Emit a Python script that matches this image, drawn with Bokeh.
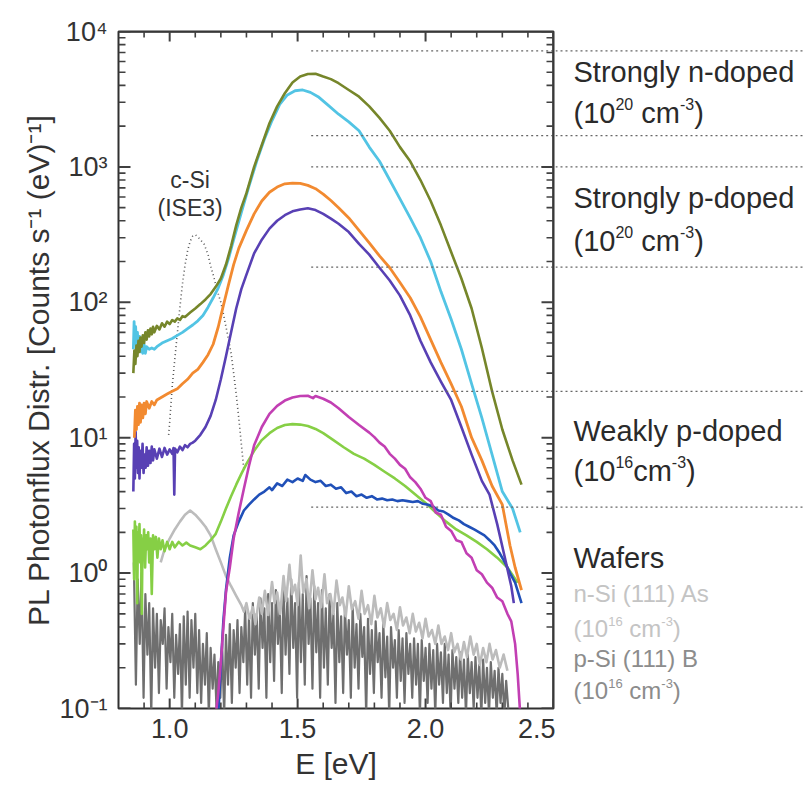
import numpy as np
from bokeh.plotting import figure
from bokeh.layouts import row
from bokeh.models import FixedTicker, CustomJSTickFormatter, PrintfTickFormatter, Range1d
from bokeh.core.properties import value
from bokeh.embed import file_html
from bokeh.resources import INLINE

FONT = "Liberation Sans"

# ---------------- data ----------------
# (E [eV], PL photon flux) pairs
olive_n = [(0.858,30),(0.862,44),(0.866,35),(0.870,48),(0.874,40),(0.878,52),(0.882,43),(0.886,55),(0.890,47),(0.895,57),(0.900,50),(0.905,60),(0.910,53),(0.915,62),(0.920,56),(0.925,64),(0.930,58),(0.935,66),(0.940,60),(0.950,67),(0.960,63),(0.970,70),(0.980,66),(0.990,72),(1.000,69),(1.010,74),(1.020,72),(1.030,76),(1.040,74),(1.050,79),(1.060,78),(1.080,84),(1.100,90),(1.120,97),(1.140,105),(1.160,115),(1.180,130),(1.200,150),(1.220,190),(1.240,260),(1.260,370),(1.280,500),(1.300,640),(1.330,1000),(1.360,1450),(1.390,2100),(1.420,2800),(1.450,3500),(1.480,4200),(1.510,4650),(1.540,4850),(1.570,4880),(1.600,4650),(1.630,4450),(1.660,4150),(1.700,3700),(1.740,3300),(1.780,2800),(1.820,2300),(1.860,1850),(1.900,1400),(1.940,1100),(1.980,800),(2.020,560),(2.060,370),(2.100,235),(2.140,150),(2.180,90),(2.220,46),(2.260,22),(2.300,11.5),(2.340,6.8),(2.375,4.5)]
cyan_n = [(0.858,45),(0.861,72),(0.864,50),(0.867,66),(0.870,47),(0.874,60),(0.878,44),(0.882,56),(0.886,43),(0.890,52),(0.895,42),(0.900,49),(0.905,42),(0.910,47),(0.920,45),(0.930,46),(0.940,45),(0.950,47),(0.970,50),(0.990,52),(1.010,54),(1.030,57),(1.050,60),(1.070,64),(1.090,68),(1.110,73),(1.130,80),(1.150,92),(1.170,108),(1.190,128),(1.210,160),(1.230,210),(1.250,290),(1.280,460),(1.310,720),(1.340,1100),(1.370,1600),(1.400,2200),(1.430,2900),(1.460,3400),(1.490,3650),(1.520,3700),(1.550,3550),(1.580,3300),(1.620,2850),(1.660,2450),(1.700,2150),(1.740,1850),(1.780,1400),(1.820,1100),(1.860,800),(1.900,580),(1.940,420),(1.980,300),(2.020,200),(2.060,120),(2.100,75),(2.140,45),(2.180,25),(2.220,14),(2.260,7.5),(2.300,4.0),(2.340,3.0),(2.370,2.0)]
orange_p = [(0.862,10),(0.866,16),(0.870,11.5),(0.874,17),(0.878,12.5),(0.882,18),(0.886,13),(0.890,17.5),(0.895,14),(0.900,18),(0.905,15),(0.910,18.5),(0.920,16.5),(0.930,18.5),(0.940,17.5),(0.950,19),(0.970,20),(0.990,21),(1.010,22),(1.030,23),(1.050,25),(1.070,27),(1.090,30),(1.110,32),(1.130,36),(1.150,41),(1.170,49),(1.190,66),(1.210,95),(1.230,135),(1.250,190),(1.270,250),(1.300,340),(1.330,450),(1.360,560),(1.390,650),(1.420,710),(1.450,750),(1.480,760),(1.510,755),(1.540,730),(1.570,690),(1.600,630),(1.630,565),(1.660,500),(1.700,420),(1.740,340),(1.780,275),(1.820,220),(1.860,180),(1.900,140),(1.940,108),(1.980,78),(2.020,53),(2.060,36),(2.100,25),(2.140,17),(2.180,10),(2.220,6.8),(2.260,4.4),(2.300,3.2),(2.330,1.6),(2.350,1.1),(2.375,0.75)]
purple_p = [(0.858,4),(0.861,9),(0.864,5),(0.867,11),(0.870,6),(0.873,9.5),(0.876,5.5),(0.879,8.5),(0.882,5),(0.886,8),(0.890,6),(0.894,9),(0.898,5.5),(0.902,7.5),(0.906,6),(0.910,8.5),(0.915,6.2),(0.920,8),(0.925,6.5),(0.930,8.6),(0.935,6.8),(0.940,8.2),(0.950,7),(0.960,8.3),(0.970,7.2),(0.980,8.4),(0.990,7.5),(1.000,8.2),(1.010,7.6),(1.015,8.4),(1.018,3.8),(1.021,8.3),(1.030,7.8),(1.040,8.6),(1.050,8.1),(1.060,8.8),(1.070,8.5),(1.080,9.0),(1.090,9.2),(1.100,9.5),(1.120,10.5),(1.140,12),(1.160,14.5),(1.180,19),(1.200,27),(1.220,40),(1.240,60),(1.260,90),(1.280,125),(1.300,160),(1.330,230),(1.360,290),(1.390,350),(1.420,400),(1.450,440),(1.480,470),(1.510,485),(1.540,495),(1.570,480),(1.600,450),(1.630,415),(1.660,380),(1.700,330),(1.740,270),(1.780,225),(1.820,180),(1.860,145),(1.900,112),(1.940,80),(1.980,52),(2.020,36),(2.060,26),(2.100,19),(2.140,12),(2.180,7.5),(2.220,4.8),(2.250,3.8),(2.280,2.3),(2.310,1.3),(2.335,0.8),(2.345,0.6)]
magenta_w = [(1.180,0.09),(1.190,0.13),(1.200,0.22),(1.210,0.40),(1.220,0.72),(1.235,1.1),(1.250,1.8),(1.270,2.8),(1.290,4.2),(1.310,6.2),(1.330,8.8),(1.360,12),(1.390,15),(1.420,17.2),(1.450,18.8),(1.480,19.8),(1.510,20.3),(1.540,20.4),(1.560,19.6),(1.570,20.3),(1.600,19.4),(1.630,18.2),(1.660,16.5),(1.700,14.2),(1.740,12.4),(1.780,10.9),(1.800,10.1),(1.820,9.2),(1.840,8.6),(1.860,7.6),(1.880,7.0),(1.900,6.3),(1.920,5.9),(1.940,5.1),(1.960,4.7),(1.980,4.2),(2.000,3.6),(2.020,3.4),(2.040,2.8),(2.060,2.7),(2.080,2.2),(2.100,2.05),(2.120,1.75),(2.140,1.7),(2.160,1.4),(2.180,1.3),(2.200,1.05),(2.220,0.98),(2.240,0.85),(2.260,0.78),(2.280,0.66),(2.300,0.62),(2.320,0.5),(2.335,0.44),(2.350,0.3),(2.360,0.18),(2.370,0.09)]
green_w = [(0.858,2.1),(0.861,0.9),(0.864,2.4),(0.867,1.3),(0.870,2.2),(0.873,0.6),(0.876,2.0),(0.879,1.5),(0.882,2.3),(0.885,1.2),(0.888,1.9),(0.891,0.5),(0.894,1.8),(0.897,1.4),(0.900,2.1),(0.904,1.1),(0.908,1.9),(0.912,1.5),(0.916,2.0),(0.920,1.2),(0.925,1.8),(0.930,0.7),(0.935,1.9),(0.940,1.5),(0.946,1.85),(0.952,1.3),(0.958,1.8),(0.965,1.5),(0.972,1.75),(0.980,1.45),(0.990,1.7),(1.000,1.5),(1.010,1.7),(1.020,1.55),(1.035,1.7),(1.050,1.6),(1.065,1.68),(1.080,1.6),(1.100,1.55),(1.120,1.5),(1.140,1.6),(1.160,1.75),(1.180,1.95),(1.200,2.4),(1.220,3.0),(1.240,3.7),(1.260,4.5),(1.280,5.4),(1.300,6.4),(1.330,8.0),(1.360,9.6),(1.390,10.8),(1.420,11.8),(1.450,12.4),(1.480,12.6),(1.510,12.5),(1.540,12.2),(1.570,11.6),(1.600,10.8),(1.640,9.6),(1.680,8.5),(1.720,7.6),(1.760,7.0),(1.800,6.3),(1.840,5.6),(1.880,5.0),(1.920,4.4),(1.960,3.8),(2.000,3.3),(2.040,2.8),(2.080,2.4),(2.120,2.1),(2.160,1.9),(2.200,1.7),(2.240,1.5),(2.280,1.3),(2.320,1.1),(2.360,0.85)]
blue_w = [(1.190,0.09),(1.200,0.21),(1.210,0.45),(1.220,0.75),(1.235,1.3),(1.250,1.9),(1.270,2.4),(1.290,2.9),(1.310,3.2),(1.330,3.5),(1.350,3.8),(1.370,4.0),(1.390,4.3),(1.400,4.1),(1.420,4.6),(1.440,4.4),(1.460,4.9),(1.480,4.7),(1.500,5.0),(1.520,4.8),(1.530,5.3),(1.550,4.9),(1.570,4.7),(1.590,4.8),(1.610,4.4),(1.630,4.5),(1.650,4.2),(1.670,4.3),(1.690,3.9),(1.710,4.0),(1.730,3.7),(1.750,3.8),(1.770,3.6),(1.790,3.7),(1.810,3.5),(1.830,3.55),(1.850,3.45),(1.870,3.5),(1.890,3.4),(1.910,3.45),(1.930,3.4),(1.950,3.35),(1.970,3.4),(1.990,3.25),(2.010,3.2),(2.030,3.1),(2.050,2.9),(2.070,2.85),(2.090,2.7),(2.110,2.55),(2.130,2.45),(2.150,2.3),(2.170,2.2),(2.190,2.1),(2.210,2.0),(2.230,1.9),(2.250,1.75),(2.270,1.6),(2.290,1.4),(2.310,1.2),(2.330,1.0),(2.350,0.85),(2.375,0.6)]
csi_ise3 = [(0.996,10.5),(1.000,13),(1.010,24),(1.020,38),(1.030,59),(1.040,92),(1.050,137),(1.060,188),(1.070,240),(1.080,282),(1.090,308),(1.100,315),(1.110,305),(1.120,290),(1.135,268),(1.150,225),(1.160,185),(1.170,160),(1.180,135),(1.190,115),(1.200,100),(1.210,82),(1.220,66),(1.230,53),(1.240,42),(1.250,30),(1.260,21),(1.270,14),(1.280,9),(1.290,5.8)]
wafer_n = [(0.965,1.2),(0.98,1.5),(1.0,1.8),(1.02,2.1),(1.04,2.4),(1.06,2.7),(1.08,2.9),(1.10,2.7),(1.12,2.45),(1.14,2.2),(1.16,1.9),(1.18,1.5),(1.20,1.2),(1.22,0.95),(1.24,0.8),(1.26,0.68),(1.28,0.58),(1.29,0.52),(1.30,0.6),(1.312,0.46),(1.325,0.56),(1.335,0.42),(1.35,0.66),(1.36,0.5),(1.372,0.74),(1.385,0.49),(1.40,0.86),(1.41,0.6),(1.42,0.72),(1.432,0.5),(1.445,0.95),(1.455,0.62),(1.468,1.15),(1.478,0.7),(1.49,0.82),(1.50,0.58),(1.512,1.35),(1.522,0.72),(1.535,0.9),(1.545,0.55),(1.558,1.05),(1.57,0.64),(1.58,0.78),(1.592,0.56),(1.605,0.98),(1.615,0.6),(1.628,0.7),(1.64,0.5),(1.652,0.88),(1.665,0.58),(1.675,0.66),(1.688,0.48),(1.70,0.8),(1.712,0.54),(1.725,0.62),(1.738,0.46),(1.75,0.74),(1.762,0.5),(1.775,0.58),(1.788,0.42),(1.80,0.68),(1.812,0.47),(1.825,0.55),(1.838,0.4),(1.85,0.6),(1.862,0.45),(1.875,0.5),(1.888,0.38),(1.90,0.56),(1.912,0.41),(1.925,0.47),(1.938,0.36),(1.95,0.5),(1.962,0.37),(1.975,0.43),(1.988,0.33),(2.00,0.46),(2.012,0.34),(2.025,0.38),(2.038,0.3),(2.05,0.41),(2.062,0.3),(2.075,0.34),(2.088,0.27),(2.10,0.36),(2.112,0.26),(2.125,0.3),(2.138,0.23),(2.15,0.31),(2.162,0.24),(2.175,0.34),(2.188,0.25),(2.20,0.3),(2.212,0.21),(2.225,0.28),(2.238,0.22),(2.25,0.3),(2.262,0.23),(2.275,0.27),(2.29,0.2),(2.305,0.25),(2.32,0.19)]
wafer_p = [(0.860,1.20),(0.868,0.15),(0.875,0.90),(0.883,0.30),(0.890,1.00),(0.898,0.12),(0.905,0.70),(0.913,0.25),(0.920,0.60),(0.928,0.09),(0.935,0.55),(0.943,0.20),(0.950,0.50),(0.958,0.13),(0.965,0.45),(0.973,0.30),(0.980,0.55),(0.988,0.14),(0.995,0.40),(1.003,0.22),(1.010,0.50),(1.018,0.12),(1.025,0.35),(1.033,0.18),(1.040,0.42),(1.048,0.09),(1.055,0.48),(1.063,0.15),(1.070,0.52),(1.078,0.12),(1.085,0.45),(1.093,0.20),(1.100,0.50),(1.108,0.13),(1.115,0.38),(1.123,0.11),(1.130,0.30),(1.138,0.15),(1.145,0.36),(1.153,0.09),(1.160,0.28),(1.168,0.14),(1.175,0.25),(1.183,0.10),(1.190,0.22),(1.198,0.12),(1.205,0.30),(1.213,0.09),(1.220,0.35),(1.228,0.15),(1.235,0.42),(1.243,0.11),(1.250,0.38),(1.258,0.20),(1.265,0.45),(1.273,0.13),(1.280,0.40),(1.288,0.22),(1.295,0.55),(1.303,0.15),(1.310,0.48),(1.318,0.12),(1.325,0.60),(1.333,0.25),(1.340,0.50),(1.348,0.14),(1.355,0.65),(1.363,0.28),(1.370,0.55),(1.378,0.12),(1.385,0.70),(1.393,0.22),(1.400,0.60),(1.408,0.16),(1.415,0.75),(1.423,0.30),(1.430,0.58),(1.438,0.13),(1.445,0.80),(1.453,0.25),(1.460,0.65),(1.468,0.18),(1.475,0.90),(1.483,0.28),(1.490,0.60),(1.498,0.12),(1.505,0.85),(1.513,0.22),(1.520,0.70),(1.528,0.15),(1.535,0.95),(1.543,0.30),(1.550,0.65),(1.558,0.14),(1.565,0.80),(1.573,0.26),(1.580,0.60),(1.588,0.12),(1.595,0.75),(1.603,0.20),(1.610,0.55),(1.618,0.15),(1.625,0.70),(1.633,0.28),(1.640,0.50),(1.648,0.11),(1.655,0.60),(1.663,0.22),(1.670,0.48),(1.678,0.13),(1.685,0.55),(1.693,0.25),(1.700,0.45),(1.708,0.12),(1.715,0.58),(1.723,0.20),(1.730,0.42),(1.738,0.14),(1.745,0.50),(1.753,0.24),(1.760,0.40),(1.768,0.09),(1.775,0.46),(1.783,0.18),(1.790,0.38),(1.798,0.13),(1.805,0.44),(1.813,0.22),(1.820,0.36),(1.828,0.12),(1.835,0.42),(1.843,0.17),(1.850,0.34),(1.858,0.09),(1.865,0.40),(1.873,0.20),(1.880,0.32),(1.888,0.12),(1.895,0.38),(1.903,0.16),(1.910,0.33),(1.918,0.11),(1.925,0.36),(1.933,0.18),(1.940,0.30),(1.948,0.12),(1.955,0.33),(1.963,0.15),(1.970,0.30),(1.978,0.09),(1.985,0.32),(1.993,0.16),(2.000,0.28),(2.008,0.11),(2.015,0.30),(2.023,0.14),(2.030,0.27),(2.038,0.09),(2.045,0.30),(2.053,0.15),(2.060,0.26),(2.068,0.11),(2.075,0.30),(2.083,0.13),(2.090,0.25),(2.098,0.09),(2.105,0.27),(2.113,0.14),(2.120,0.24),(2.128,0.11),(2.135,0.26),(2.143,0.12),(2.150,0.23),(2.158,0.09),(2.165,0.25),(2.173,0.13),(2.180,0.22),(2.188,0.10),(2.195,0.24),(2.203,0.12),(2.210,0.21),(2.218,0.09),(2.225,0.23),(2.233,0.11),(2.240,0.20),(2.248,0.09),(2.255,0.22),(2.263,0.12),(2.270,0.19),(2.278,0.09),(2.285,0.20),(2.293,0.11),(2.300,0.18),(2.308,0.09),(2.315,0.16),(2.325,0.09)]

# horizontal guide levels (dotted lines that bracket the groups)
guide_levels = [7200, 1700, 1000, 182, 22, 3.07]

# group labels on the right ("^{..}" marks a superscript)
group_labels = ["Strongly n-doped", "(10^{20} cm^{-3})", "Strongly p-doped", "(10^{20} cm^{-3})",
                "Weakly p-doped", "(10^{16}cm^{-3})", "Wafers"]
group_label_y = [4980, 2480, 594, 286, 11.3, 5.72, 1.30]
wafer_labels = ["n-Si (111) As", "(10^{16} cm^{-3})", "p-Si (111) B", "(10^{16} cm^{-3})"]
wafer_label_y = [0.706, 0.39, 0.234, 0.136]
wafer_label_colors = ["#c4c4c4", "#c4c4c4", "#8c8c8c", "#8c8c8c"]
csi_labels = ["c-Si", "(ISE3)"]
csi_label_y = [794, 500]

x_major = [1.0, 1.5, 2.0, 2.5]
x_minor = [0.9, 1.1, 1.2, 1.3, 1.4, 1.6, 1.7, 1.8, 1.9, 2.1, 2.2, 2.3, 2.4]
y_major = [0.1, 1, 10, 100, 1000, 10000]
y_minor = [m * 10.0 ** e for e in range(-1, 4) for m in range(2, 10)]

# ---------------- main plot ----------------
X0, X1 = 0.8, 2.5
Y0, Y1 = 0.1, 1e4
FW, FH = 435, 677          # frame size in px
LEFT, TOP = 118, 31

p = figure(frame_width=FW, frame_height=FH, y_axis_type="log",
           x_range=Range1d(X0, X1), y_range=Range1d(Y0, Y1),
           output_backend="svg", toolbar_location=None,
           min_border_left=LEFT, min_border_right=2, min_border_top=TOP, min_border_bottom=0)
p.outline_line_color = "#303030"
p.outline_line_width = 2
p.grid.visible = False

sup_fmt = CustomJSTickFormatter(code="""
const e = Math.round(Math.log10(tick));
const m = {'-':'\\u207b','0':'\\u2070','1':'\\u00b9','2':'\\u00b2','3':'\\u00b3','4':'\\u2074'};
return '10' + String(e).split('').map(c => m[c]).join('');
""")

def style_axis(ax):
    ax.axis_line_color = None
    ax.major_tick_line_color = None
    ax.minor_tick_line_color = None
    ax.major_tick_in = 0
    ax.major_tick_out = 0
    ax.minor_tick_in = 0
    ax.minor_tick_out = 0
    ax.major_label_text_font = FONT
    ax.major_label_text_font_size = "27px"
    ax.major_label_text_color = "#333333"
    ax.axis_label_text_font = FONT
    ax.axis_label_text_font_style = "normal"
    ax.axis_label_text_font_size = "30px"
    ax.axis_label_text_color = "#333333"

xb = p.xaxis[0]
xb.ticker = FixedTicker(ticks=x_major, minor_ticks=x_minor)
xb.formatter = PrintfTickFormatter(format="%.1f")
style_axis(xb)
xb.major_label_standoff = 10
xb.axis_label = "E [eV]"
xb.axis_label_standoff = 6

yl = p.yaxis[0]
yl.ticker = FixedTicker(ticks=y_major, minor_ticks=y_minor)
yl.formatter = sup_fmt
style_axis(yl)
yl.major_label_standoff = 11
yl.axis_label = "PL Photonflux Distr. [Counts s\u207b\u00b9 (eV)\u207b\u00b9]"
yl.axis_label_standoff = 1

def xy(pairs):
    return [a for a, _ in pairs], [b for _, b in pairs]

series = [
    (wafer_p, "#6f6f6f", 2.2, "solid"),
    (wafer_n, "#bcbcbc", 2.6, "solid"),
    (csi_ise3, "#555555", 1.6, "1 3"),
    (green_w, "#86cf45", 2.6, "solid"),
    (blue_w, "#2050b8", 2.6, "solid"),
    (magenta_w, "#c23fb3", 2.6, "solid"),
    (purple_p, "#5840b4", 2.6, "solid"),
    (orange_p, "#f28a30", 2.8, "solid"),
    (cyan_n, "#52c4e4", 2.8, "solid"),
    (olive_n, "#76862a", 2.6, "solid"),
]
for pairs, col, lw, dash in series:
    xs, ys = xy(pairs)
    p.line(xs, ys, line_color=col, line_width=lw, line_dash=dash, line_join="round")

GUIDE_C, GUIDE_DASH = "#666666", "2 3"
p.segment(x0=1.553, y0=guide_levels, x1=X1, y1=guide_levels,
          line_color=GUIDE_C, line_width=1.3, line_dash=GUIDE_DASH)

p.text(x=1.08, y=csi_label_y, text=csi_labels, text_font=value(FONT), text_font_size="23px",
       text_color="#333333", text_baseline="middle", text_align="center")

# inward tick marks on all four sides + top/right edges of the data box
px_x = FW / (X1 - X0)
px_dec = FH / 5.0
TICK_C = "#404040"
tick_xs, tick_ys, tick_w = [], [], []
for yt, xt, ln_y, ln_x, lw in [(y_major, x_major, 12, 10, 2.0), (y_minor, x_minor, 7, 6, 1.6)]:
    dx = ln_y / px_x
    f = 10 ** (ln_x / px_dec)
    for t in yt:
        tick_xs += [[X0, X0 + dx], [X1 - dx, X1]]
        tick_ys += [[t, t], [t, t]]
        tick_w += [lw, lw]
    for t in xt:
        tick_xs += [[t, t], [t, t]]
        tick_ys += [[Y0, Y0 * f], [Y1 / f, Y1]]
        tick_w += [lw, lw]
tick_xs += [[X1, X1], [X0, X1]]
tick_ys += [[Y0, Y1], [Y1, Y1]]
tick_w += [2.6, 2.6]
p.multi_line(xs=tick_xs, ys=tick_ys, line_color=TICK_C, line_width=tick_w)

# ---------------- label panel on the right (shares the y scale) ----------------
RW = 250
q = figure(frame_width=RW, frame_height=FH, y_axis_type="log",
           x_range=Range1d(0, RW), y_range=p.y_range,
           x_axis_location=None, y_axis_location=None,
           output_backend="svg", toolbar_location=None,
           min_border_left=0, min_border_right=0, min_border_top=TOP, min_border_bottom=0)
q.outline_line_color = None
q.grid.visible = False
q.segment(x0=0, y0=guide_levels, x1=RW, y1=guide_levels,
          line_color=GUIDE_C, line_width=1.3, line_dash=GUIDE_DASH)

ARIAL_W = {'(': .333, ')': .333, ' ': .278, 'c': .5, 'm': .833, '-': .333}

def split_sup(s):
    out, i = [], 0
    while i < len(s):
        j = s.find("^{", i)
        if j < 0:
            out.append((s[i:], False))
            break
        if j > i:
            out.append((s[i:j], False))
        k = s.find("}", j)
        out.append((s[j + 2:k], True))
        i = k + 1
    return out

def draw_label(fig, x, y, s, size, color):
    xoff = 0.0
    sup_size = round(size * 0.55)
    for piece, sup in split_sup(s):
        fs = sup_size if sup else size
        lead = len(piece) - len(piece.lstrip(" "))
        xoff += lead * ARIAL_W[' '] * fs
        core = piece.strip(" ")
        if core:
            fig.text(x=[x], y=[y], text=[core], x_offset=xoff, y_offset=(-round(size * 0.3) if sup else 0),
                     text_font=value(FONT), text_font_size=f"{fs}px", text_color=color,
                     text_baseline="middle", text_align="left")
            xoff += sum(ARIAL_W.get(ch, .556) for ch in core) * fs
        trail = len(piece) - len(piece.rstrip(" ")) if core else 0
        xoff += trail * ARIAL_W[' '] * fs

LABEL_X = 18
for s, yv in zip(group_labels, group_label_y):
    draw_label(q, LABEL_X, yv, s, 29, "#2a2a2a")
for s, yv, c in zip(wafer_labels, wafer_label_y, wafer_label_colors):
    draw_label(q, LABEL_X, yv, s, 24, c)

open("out.html", "w").write(file_html(row(p, q), INLINE))
